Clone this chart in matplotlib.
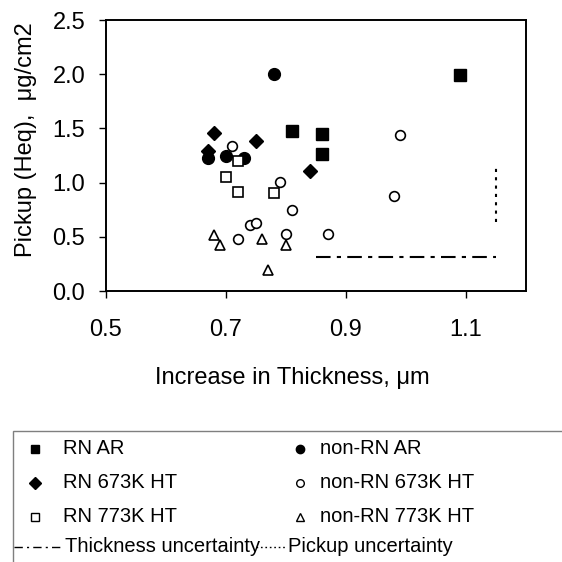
import matplotlib
matplotlib.use("Agg")
import matplotlib.pyplot as plt
from matplotlib.lines import Line2D
from matplotlib.patches import Rectangle

plt.rcParams['font.family'] = ['Liberation Sans', 'DejaVu Sans']

# ---- data ----
rn_ar_x = [0.81, 0.86, 0.86, 1.09]
rn_ar_y = [1.48, 1.45, 1.26, 1.99]

nonrn_ar_x = [0.67, 0.70, 0.73, 0.78]
nonrn_ar_y = [1.23, 1.25, 1.23, 2.00]

rn673_x = [0.68, 0.67, 0.75, 0.84]
rn673_y = [1.46, 1.29, 1.38, 1.11]

nonrn673_x = [0.71, 0.79, 0.81, 0.74, 0.75, 0.72, 0.80, 0.87, 0.99, 0.98]
nonrn673_y = [1.34, 1.01, 0.75, 0.61, 0.63, 0.48, 0.53, 0.53, 1.44, 0.88]

rn773_x = [0.72, 0.70, 0.72, 0.78]
rn773_y = [1.20, 1.05, 0.91, 0.90]

nonrn773_x = [0.68, 0.69, 0.76, 0.80, 0.77]
nonrn773_y = [0.52, 0.42, 0.48, 0.42, 0.19]

thick_unc_x = [0.85, 1.15]
thick_unc_y = [0.31, 0.31]
pick_unc_x = [1.15, 1.15]
pick_unc_y = [0.64, 1.15]

xticks = [0.5, 0.7, 0.9, 1.1]
yticks = [0.0, 0.5, 1.0, 1.5, 2.0, 2.5]

W = H = 562
fig = plt.figure(figsize=(5.62, 5.62), dpi=100)
ax = fig.add_axes([106 / W, 1 - 291 / H, 420 / W, 271 / H])

mk = dict(linestyle='none', color='black')
ax.plot(rn_ar_x, rn_ar_y, marker='s', ms=8, **mk)
ax.plot(nonrn_ar_x, nonrn_ar_y, marker='o', ms=8.5, **mk)
ax.plot(rn673_x, rn673_y, marker='D', ms=7.5, **mk)
ax.plot(nonrn673_x, nonrn673_y, marker='o', ms=7, mfc='white', mec='black', mew=1.2, linestyle='none')
ax.plot(rn773_x, rn773_y, marker='s', ms=7, mfc='white', mec='black', mew=1.2, linestyle='none')
ax.plot(nonrn773_x, nonrn773_y, marker='^', ms=7.5, mfc='white', mec='black', mew=1.2, linestyle='none')
ax.plot(thick_unc_x, thick_unc_y, color='black', lw=1.5, linestyle=(0, (7, 3, 2, 3)))
ax.plot(pick_unc_x, pick_unc_y, color='black', lw=1.5, linestyle=(0, (1.5, 2.5)))

ax.set_xlim(0.5, 1.2)
ax.set_ylim(0.0, 2.5)
ax.set_xticks(xticks)
ax.set_xticklabels([f"{v:.1f}" for v in xticks])
ax.set_yticks(yticks)
ax.set_yticklabels([f"{v:.1f}" for v in yticks])
ax.tick_params(axis='both', labelsize=17, length=5, width=1, direction='out', color='black')
ax.tick_params(axis='x', pad=15)
ax.tick_params(axis='y', pad=10)
for s in ax.spines.values():
    s.set_linewidth(1.4)
    s.set_color('black')

fig.text(292 / W, 1 - 378 / H, "Increase in Thickness, \u03bcm", fontsize=17,
         ha='center', va='center')
fig.text(26 / W, 1 - 140 / H, "Pickup (Heq),  \u03bcg/cm2", fontsize=17,
         ha='center', va='center', rotation=90)

# ---- legend (drawn in figure pixel coordinates) ----
def fx(px):
    return px / W

def fy(py):
    return 1 - py / H

fig.patches.append(Rectangle((fx(13), fy(600)), fx(600) - fx(13), fy(431) - fy(600),
                             transform=fig.transFigure, fill=False,
                             edgecolor='#7f7f7f', lw=1.0))

rows = [449, 483, 517]
left_entries = [
    ('RN AR', dict(marker='s', ms=6, mfc='black', mec='black')),
    ('RN 673K HT', dict(marker='D', ms=6, mfc='black', mec='black')),
    ('RN 773K HT', dict(marker='s', ms=5.5, mfc='white', mec='black', mew=1.0)),
]
right_entries = [
    ('non-RN AR', dict(marker='o', ms=6, mfc='black', mec='black')),
    ('non-RN 673K HT', dict(marker='o', ms=5.5, mfc='white', mec='black', mew=1.0)),
    ('non-RN 773K HT', dict(marker='^', ms=6, mfc='white', mec='black', mew=1.0)),
]
for r, (lab, st) in zip(rows, left_entries):
    fig.add_artist(Line2D([fx(35)], [fy(r)], transform=fig.transFigure, linestyle='none', **st))
    fig.text(fx(63), fy(r), lab, fontsize=14.5, ha='left', va='center')
for r, (lab, st) in zip(rows, right_entries):
    fig.add_artist(Line2D([fx(300)], [fy(r)], transform=fig.transFigure, linestyle='none', **st))
    fig.text(fx(320), fy(r), lab, fontsize=14.5, ha='left', va='center')

r4 = 547
fig.add_artist(Line2D([fx(14), fx(60)], [fy(r4), fy(r4)], transform=fig.transFigure,
                      color='black', lw=1.0, linestyle=(0, (6, 3, 1.5, 3))))
fig.text(fx(65), fy(r4), "Thickness uncertainty", fontsize=14.5, ha='left', va='center')
fig.add_artist(Line2D([fx(256), fx(287)], [fy(r4), fy(r4)], transform=fig.transFigure,
                      color='black', lw=1.0, linestyle=(0, (1.2, 2))))
fig.text(fx(288), fy(r4), "Pickup uncertainty", fontsize=14.5, ha='left', va='center')

fig.savefig("out.png", dpi=100)
